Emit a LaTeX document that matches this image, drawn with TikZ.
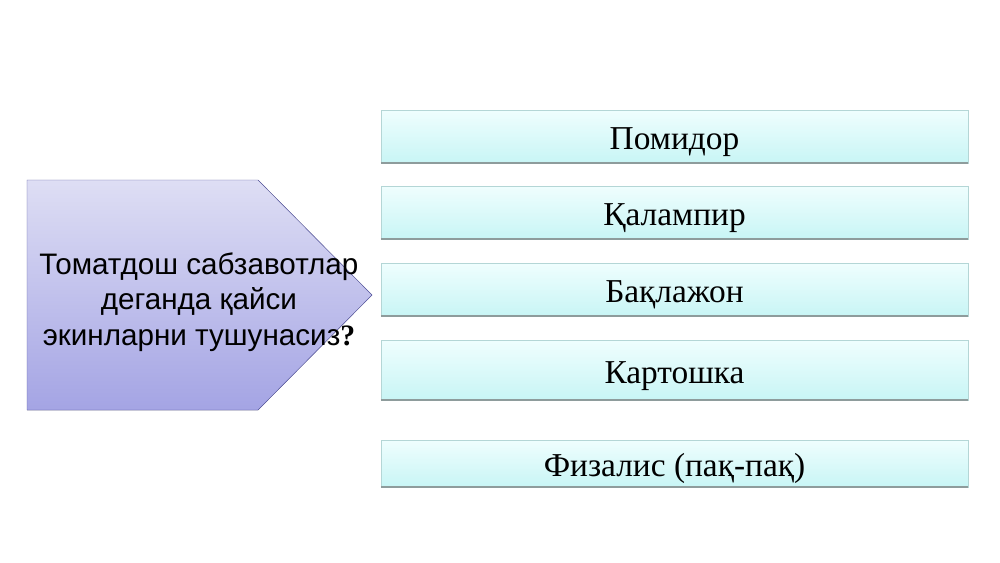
\documentclass[tikz,border=0pt]{standalone}
\usepackage{fontspec}
\setmainfont{Liberation Serif}
\newfontfamily\asksans{Liberation Sans}

\definecolor{boxtop}{HTML}{EFFEFE}
\definecolor{boxbot}{HTML}{C8F5F5}
\definecolor{boxline}{HTML}{B4D6D6}
\definecolor{boxshade}{HTML}{8E9C9C}
\definecolor{asktop}{HTML}{DEDEF4}
\definecolor{askbot}{HTML}{A4A4E4}
\definecolor{askline}{HTML}{5858A2}

\tikzset{
  answer/.style={draw=boxline, top color=boxtop, bottom color=boxbot,
    minimum width=176.1mm, inner sep=0pt, text height=23pt, text depth=0pt,
    font={\fontsize{28.5}{30}\selectfont}},
  shade line/.style={draw=boxshade, line width=1.3pt}
}

\begin{document}
\begin{tikzpicture}[x=0.3mm, y=-0.3mm]

\useasboundingbox (0,0) rectangle (1000,562);

% question arrow
\filldraw[draw=askline, top color=asktop, bottom color=askbot]
  (27,180) -- (258,180) -- (372,295) -- (258,410) -- (27,410) -- cycle;
\node [align=center, font={\asksans\fontsize{25.3}{30.5}\selectfont}] (ask)
  at (199,302) {Томатдош сабзавотлар\\деганда қайси\\экинларни тушунасиз{\rmfamily\bfseries ?}};

% answers
\node [answer, minimum height=15.9mm] (pomidor) at (674.5,136.5) {Помидор};
\node [answer, minimum height=15.9mm] (qalampir) at (674.5,212.5) {Қалампир};
\node [answer, minimum height=15.9mm] (baqlajon) at (674.5,289.5) {Бақлажон};
\node [answer, minimum height=18mm] (kartoshka) at (674.5,370) {Картошка};
\node [answer, minimum height=14.1mm] (fizalis) at (674.5,463.5) {Физалис (пақ-пақ)};

\foreach \n in {pomidor, qalampir, baqlajon, kartoshka, fizalis}
  \draw [shade line] (\n.south west) -- (\n.south east);

\end{tikzpicture}
\end{document}
